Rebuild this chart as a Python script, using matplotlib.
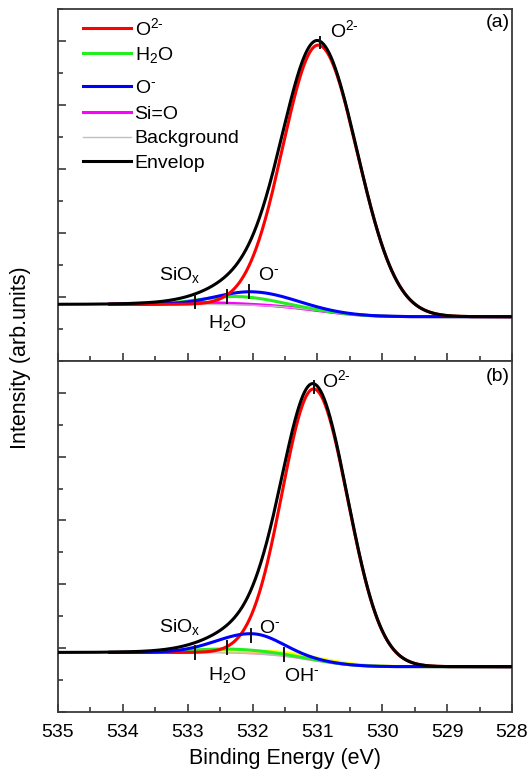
import numpy as np
import matplotlib
matplotlib.use("Agg")
import matplotlib.pyplot as plt
from matplotlib.ticker import MultipleLocator, NullFormatter
from matplotlib.lines import Line2D

plt.rcParams['font.family'] = ['Liberation Sans', 'DejaVu Sans']
plt.rcParams['mathtext.fontset'] = 'custom'
plt.rcParams['mathtext.rm'] = 'Liberation Sans'
plt.rcParams['mathtext.it'] = 'Liberation Sans:italic'
plt.rcParams['mathtext.bf'] = 'Liberation Sans:bold'

# ---------------- data ----------------
energy_min, energy_max = 528.0, 535.0
x_ticks = [535, 534, 533, 532, 531, 530, 529, 528]

# panel (a) components: centre (eV), height (arb.), left sigma, right sigma
a_centres = [530.98, 532.25, 532.0, 532.9]     # O2-, H2O, O-, Si=O
a_heights = [4.15, 0.13, 0.21, 0.03]
a_sig_l   = [0.55, 0.55, 0.55, 0.7]
a_sig_r   = [0.60, 0.60, 0.62, 0.7]
a_bg_left, a_bg_right = 0.886, 0.692

# panel (b) components
b_centres = [531.05, 532.35, 532.0, 531.5, 532.9]   # O2-, H2O, O-, OH-, Si=O
b_heights = [4.25, 0.06, 0.31, 0.05, 0.02]
b_sig_l   = [0.49, 0.60, 0.55, 0.7, 0.7]
b_sig_r   = [0.52, 0.60, 0.45, 0.7, 0.7]
b_bg_left, b_bg_right = 0.93, 0.706

# peak marker positions (eV)
a_mark = {'SiOx': 532.89, 'H2O': 532.39, 'O-': 532.05, 'O2-': 530.96}
b_mark = {'SiOx': 532.89, 'H2O': 532.39, 'O-': 532.03, 'OH-': 531.52, 'O2-': 531.05}

colors = {'O2-': '#FF0000', 'H2O': '#22EE22', 'O-': '#0000FF', 'Si=O': '#FF00FF',
          'OH-': '#FFFF00', 'bg': '#C0C0C0', 'env': '#000000'}

E = np.linspace(energy_min, energy_max, 1400)


def split_gauss(x, c, h, sl, sr):
    s = np.where(x > c, sl, sr)
    return h * np.exp(-(x - c) ** 2 / (2 * s ** 2))


def shirley(x, total, left, right):
    cum = np.cumsum(total)
    cum = cum / cum[-1]
    return right + (left - right) * cum


def build(centres, heights, sl, sr, bl, br):
    comps = [split_gauss(E, c, h, l, r) for c, h, l, r in zip(centres, heights, sl, sr)]
    total = np.sum(comps, axis=0)
    bg = shirley(E, total, bl, br)
    return comps, bg, total + bg


W, H = 529, 772
fig = plt.figure(figsize=(W / 100, H / 100), dpi=100)
axA = fig.add_axes([58 / W, (H - 361) / H, 454 / W, 352 / H])
axB = fig.add_axes([58 / W, (H - 711.7) / H, 454 / W, 350.7 / H])

spine_c = '#3a3a3a'
fs = 14
HY = '\u2010'
SIOX = r'SiO$_{\mathrm{x}}$'


def style(ax, labels):
    ax.set_xlim(energy_max, energy_min)
    ax.set_ylim(0, 5.5)
    ax.xaxis.set_major_locator(MultipleLocator(1))
    ax.xaxis.set_minor_locator(MultipleLocator(0.5))
    ax.yaxis.set_major_locator(MultipleLocator(1))
    ax.yaxis.set_minor_locator(MultipleLocator(0.5))
    ax.yaxis.set_major_formatter(NullFormatter())
    ax.tick_params(axis='both', which='major', direction='in', length=6, width=1.2,
                   color=spine_c, labelsize=fs, top=False, right=False)
    ax.tick_params(axis='both', which='minor', direction='in', length=3.5, width=1.2,
                   color=spine_c, top=False, right=False)
    for s in ax.spines.values():
        s.set_color(spine_c)
        s.set_linewidth(1.3)
    if labels:
        ax.set_xticks(x_ticks)
        ax.set_xticklabels([str(t) for t in x_ticks])
        ax.tick_params(axis='x', pad=9)
    else:
        ax.xaxis.set_major_formatter(NullFormatter())


lw = 2.2
mask_c = E < 534.2


def mark(ax, e, y, h=0.1):
    ax.plot([e, e], [y - h, y + h], color='#111111', lw=1.4, zorder=6)


# ---------- panel (a)
compsA, bgA, envA = build(a_centres, a_heights, a_sig_l, a_sig_r, a_bg_left, a_bg_right)
axA.plot(E[mask_c], compsA[3][mask_c] + bgA[mask_c], color=colors['Si=O'], lw=lw, zorder=2)
axA.plot(E[mask_c], bgA[mask_c], color=colors['bg'], lw=1.0, zorder=2.5)
axA.plot(E[mask_c], compsA[1][mask_c] + bgA[mask_c], color=colors['H2O'], lw=lw, zorder=3)
axA.plot(E[mask_c], compsA[2][mask_c] + bgA[mask_c], color=colors['O-'], lw=lw, zorder=3)
axA.plot(E[mask_c], compsA[0][mask_c] + bgA[mask_c], color=colors['O2-'], lw=lw, zorder=3)
axA.plot(E, envA, color=colors['env'], lw=lw, zorder=4)

mark(axA, a_mark['SiOx'], np.interp(a_mark['SiOx'], E, bgA) + 0.05)
mark(axA, a_mark['H2O'], np.interp(a_mark['H2O'], E, compsA[1] + bgA))
mark(axA, a_mark['O-'], np.interp(a_mark['O-'], E, compsA[2] + bgA))
mark(axA, a_mark['O2-'], np.interp(a_mark['O2-'], E, envA) - 0.02, 0.09)

axA.text(533.12, 1.34, SIOX, fontsize=fs, ha='center', va='center')
axA.text(531.92, 1.33, 'O$^{' + HY + '}$', fontsize=fs, ha='left', va='center')
axA.text(532.39, 0.60, 'H$_2$O', fontsize=fs, ha='center', va='center')
axA.text(530.8, 5.17, 'O$^{2' + HY + '}$', fontsize=fs, ha='left', va='center')
axA.text(0.995, 0.962, '(a)', transform=axA.transAxes, fontsize=fs, ha='right', va='center')

h1 = [Line2D([], [], color=colors['O2-'], lw=lw), Line2D([], [], color=colors['H2O'], lw=lw)]
l1 = ['O$^{2' + HY + '}$', 'H$_2$O']
h2 = [Line2D([], [], color=colors['O-'], lw=lw)]
l2 = ['O$^{' + HY + '}$']
h3 = [Line2D([], [], color=colors['Si=O'], lw=lw),
      Line2D([], [], color=colors['bg'], lw=1.0), Line2D([], [], color=colors['env'], lw=lw)]
l3 = ['Si=O', 'Background', 'Envelop']
legkw = dict(loc='upper left', frameon=False, fontsize=fs, handlelength=2.45,
             handletextpad=0.2, labelspacing=0.3, borderpad=0.0, borderaxespad=0.0,
             bbox_transform=fig.transFigure)
leg1 = axA.legend(h1, l1, bbox_to_anchor=(83 / W, 1 - 17 / H), **legkw)
axA.add_artist(leg1)
leg2 = axA.legend(h2, l2, bbox_to_anchor=(83 / W, 1 - 79 / H), **legkw)
axA.add_artist(leg2)
leg3 = axA.legend(h3, l3, bbox_to_anchor=(83 / W, 1 - 105.5 / H),
                  **{**legkw, 'labelspacing': 0.34})

style(axA, False)

# ---------- panel (b)
compsB, bgB, envB = build(b_centres, b_heights, b_sig_l, b_sig_r, b_bg_left, b_bg_right)
axB.plot(E[mask_c], compsB[4][mask_c] + bgB[mask_c], color='#FF88CC', lw=lw, zorder=2)
axB.plot(E[mask_c], compsB[3][mask_c] + bgB[mask_c], color=colors['OH-'], lw=lw, zorder=2.2)
axB.plot(E[mask_c], bgB[mask_c], color=colors['bg'], lw=1.0, zorder=2.5)
axB.plot(E[mask_c], compsB[1][mask_c] + bgB[mask_c], color=colors['H2O'], lw=lw, zorder=3)
axB.plot(E[mask_c], compsB[0][mask_c] + bgB[mask_c], color=colors['O2-'], lw=lw, zorder=3)
axB.plot(E[mask_c], compsB[2][mask_c] + bgB[mask_c], color=colors['O-'], lw=lw, zorder=3)
axB.plot(E, envB, color=colors['env'], lw=lw, zorder=4)

mark(axB, b_mark['SiOx'], np.interp(b_mark['SiOx'], E, bgB) + 0.0)
mark(axB, b_mark['H2O'], np.interp(b_mark['H2O'], E, compsB[1] + bgB) + 0.03)
mark(axB, b_mark['O-'], np.interp(b_mark['O-'], E, compsB[2] + bgB) - 0.03)
mark(axB, b_mark['OH-'], np.interp(b_mark['OH-'], E, compsB[3] + bgB) - 0.03)
mark(axB, b_mark['O2-'], np.interp(b_mark['O2-'], E, envB) - 0.05, 0.1)

axB.text(533.12, 1.33, SIOX, fontsize=fs, ha='center', va='center')
axB.text(531.9, 1.30, 'O$^{' + HY + '}$', fontsize=fs, ha='left', va='center')
axB.text(532.39, 0.57, 'H$_2$O', fontsize=fs, ha='center', va='center')
axB.text(531.24, 0.55, 'OH$^{' + HY + '}$', fontsize=fs, ha='center', va='center')
axB.text(530.93, 5.2, 'O$^{2' + HY + '}$', fontsize=fs, ha='left', va='center')
axB.text(0.995, 0.955, '(b)', transform=axB.transAxes, fontsize=fs, ha='right', va='center')

style(axB, True)
axB.set_xlabel('Binding Energy (eV)', fontsize=15.5, labelpad=5)
fig.text(21 / W, 1 - 358 / H, 'Intensity (arb.units)', rotation=90, fontsize=15.5,
         ha='center', va='center')

fig.savefig('out.png', dpi=100)
